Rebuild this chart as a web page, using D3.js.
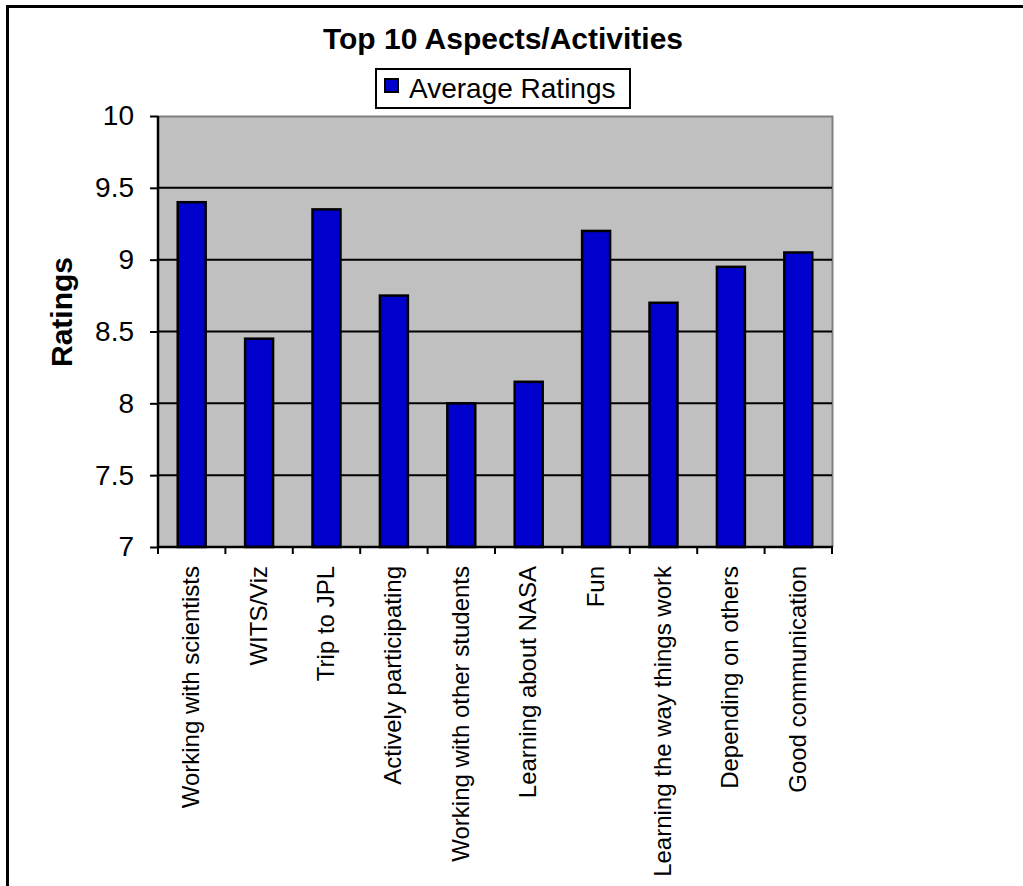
<!DOCTYPE html>
<html>
<head>
<meta charset="utf-8">
<script src="https://cdn.jsdelivr.net/npm/d3@7"></script>
<style>
  html, body { margin: 0; padding: 0; background: #fff; }
  svg { display: block; }
</style>
</head>
<body>
<div id="grafico"></div>
<script>
// dados do gráfico
const categorias = [
  'Working with scientists', 'WITS/Viz', 'Trip to JPL', 'Actively participating',
  'Working with other students', 'Learning about NASA', 'Fun',
  'Learning the way things work', 'Depending on others', 'Good communication'
];
const notas = [9.4, 8.45, 9.35, 8.75, 8.0, 8.15, 9.2, 8.7, 8.95, 9.05];
const ticksY = [7, 7.5, 8, 8.5, 9, 9.5, 10];
const nomeSerie = 'Average Ratings';
const titulo = 'Top 10 Aspects/Activities';
const tituloY = 'Ratings';

const largura = 1023, altura = 886;
const area = { esquerda: 158, direita: 832, topo: 116, baixo: 547 };

const svg = d3.select('#grafico').append('svg')
  .attr('width', largura)
  .attr('height', altura)
  .style('font-family', 'Arial, "Liberation Sans", sans-serif');

// moldura (só topo e esquerda visíveis)
svg.append('path')
  .attr('d', `M7.5,${altura} L7.5,6.5 L${largura},6.5`)
  .attr('fill', 'none')
  .attr('stroke', '#000')
  .attr('stroke-width', 3);

const escalaX = d3.scaleBand()
  .domain(categorias)
  .range([area.esquerda, area.direita])
  .paddingInner(0.585)
  .paddingOuter(0.2925);

const escalaY = d3.scaleLinear()
  .domain([7, 10])
  .range([area.baixo, area.topo]);

// fundo da área de plotagem
svg.append('rect')
  .attr('x', area.esquerda)
  .attr('y', area.topo)
  .attr('width', area.direita - area.esquerda)
  .attr('height', area.baixo - area.topo)
  .attr('fill', '#c0c0c0');

// borda cinza topo/direita
svg.append('path')
  .attr('d', `M${area.esquerda},${area.topo + 0.5} L${area.direita + 0.5},${area.topo + 0.5} L${area.direita + 0.5},${area.baixo}`)
  .attr('fill', 'none')
  .attr('stroke', '#808080')
  .attr('stroke-width', 2);

// linhas de grade
svg.append('g')
  .selectAll('line')
  .data(ticksY.filter(t => t > 7 && t < 10))
  .join('line')
  .attr('x1', area.esquerda)
  .attr('x2', area.direita)
  .attr('y1', d => escalaY(d))
  .attr('y2', d => escalaY(d))
  .attr('stroke', '#000')
  .attr('stroke-width', 2);

// barras
svg.append('g')
  .selectAll('rect')
  .data(notas)
  .join('rect')
  .attr('x', (d, i) => escalaX(categorias[i]))
  .attr('y', d => escalaY(d))
  .attr('width', escalaX.bandwidth())
  .attr('height', d => escalaY(7) - escalaY(d))
  .attr('fill', '#0000cc')
  .attr('stroke', '#000')
  .attr('stroke-width', 2.5);

// eixo Y
const eixoY = svg.append('g')
  .attr('transform', `translate(${area.esquerda},0)`)
  .call(d3.axisLeft(escalaY).tickValues(ticksY).tickFormat(d3.format('')).tickSize(8).tickPadding(16));
eixoY.select('.domain').attr('stroke', '#000').attr('stroke-width', 2.5)
  .attr('d', `M0,${area.topo}V${area.baixo}`);
eixoY.selectAll('.tick line').attr('stroke', '#000').attr('stroke-width', 2);
eixoY.selectAll('.tick text')
  .attr('fill', '#000')
  .style('font-size', '28px')
  .style('font-family', 'Arial, "Liberation Sans", sans-serif');

// eixo X: marcas nos limites das categorias
const limites = d3.range(categorias.length + 1).map(i =>
  area.esquerda + i * (area.direita - area.esquerda) / categorias.length);
svg.append('line')
  .attr('x1', area.esquerda - 1)
  .attr('x2', area.direita + 1)
  .attr('y1', area.baixo)
  .attr('y2', area.baixo)
  .attr('stroke', '#000')
  .attr('stroke-width', 2.5);
svg.append('g')
  .selectAll('line')
  .data(limites)
  .join('line')
  .attr('x1', d => d)
  .attr('x2', d => d)
  .attr('y1', area.baixo)
  .attr('y2', area.baixo + 7)
  .attr('stroke', '#000')
  .attr('stroke-width', 2);

// rótulos X girados
svg.append('g')
  .selectAll('text')
  .data(categorias)
  .join('text')
  .attr('transform', d => `translate(${escalaX(d) + escalaX.bandwidth() / 2 - 1},566) rotate(-90)`)
  .attr('text-anchor', 'end')
  .attr('dy', '0.35em')
  .style('font-size', '24px')
  .text(d => d);

// título
svg.append('text')
  .attr('x', 503)
  .attr('y', 49)
  .attr('text-anchor', 'middle')
  .style('font-size', '30px')
  .style('font-weight', 'bold')
  .text(titulo);

// título do eixo Y
svg.append('text')
  .attr('transform', `translate(72,312) rotate(-90)`)
  .attr('text-anchor', 'middle')
  .style('font-size', '30px')
  .style('font-weight', 'bold')
  .text(tituloY);

// legenda
const legenda = svg.append('g');
legenda.append('rect')
  .attr('x', 376)
  .attr('y', 69)
  .attr('width', 254)
  .attr('height', 39)
  .attr('fill', '#fff')
  .attr('stroke', '#000')
  .attr('stroke-width', 2);
legenda.append('rect')
  .attr('x', 385)
  .attr('y', 79)
  .attr('width', 13)
  .attr('height', 13)
  .attr('fill', '#0000cc')
  .attr('stroke', '#000')
  .attr('stroke-width', 2);
legenda.append('text')
  .attr('x', 409)
  .attr('y', 98)
  .style('font-size', '28px')
  .text(nomeSerie);
</script>
</body>
</html>
